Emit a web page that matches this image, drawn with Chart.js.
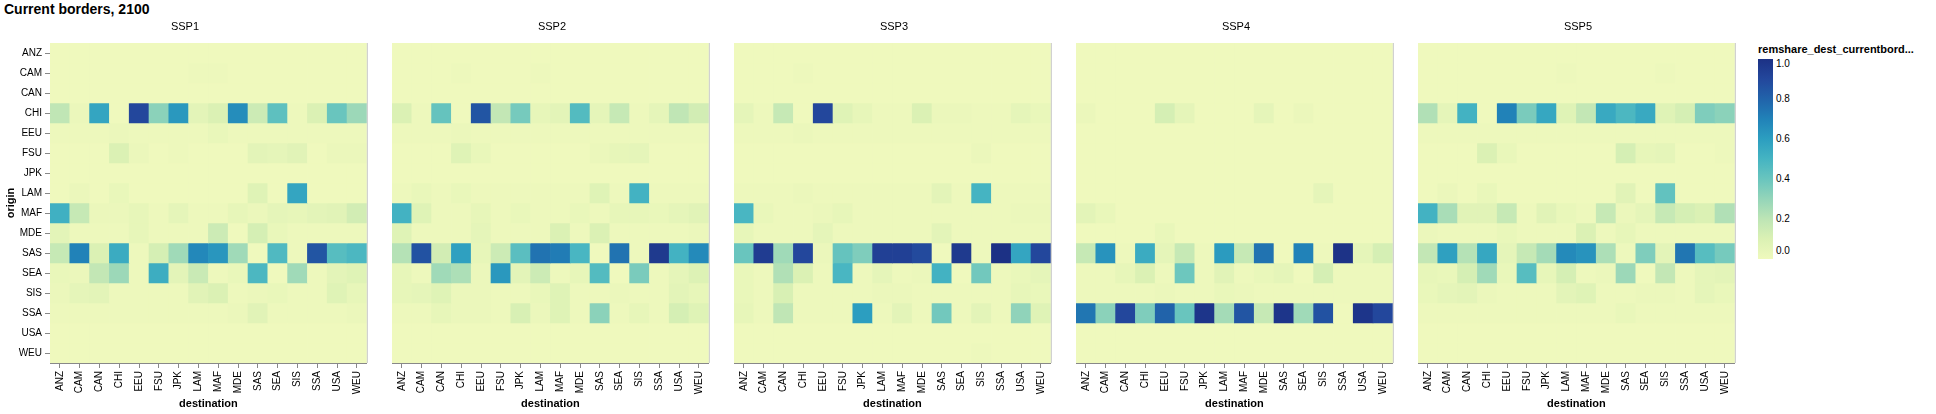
<!DOCTYPE html>
<html lang="en">
<head>
  <meta charset="UTF-8" />
  <title>Current borders, 2100</title>
  <script src="https://cdn.jsdelivr.net/npm/chart.js"></script>
  <style>
    body { margin: 0; background: #fff; font-family: 'Liberation Sans', Arial, sans-serif; }
    #wrap { position: relative; width: 1936px; height: 414px; overflow: hidden; }
    #wrap canvas { position: absolute; top: 0; }
    #title { position: absolute; left: 4px; top: 1px; font-size: 14px; font-weight: bold; color: #000; }
    #legTitle { position: absolute; left: 1758px; top: 43px; font-size: 11px; font-weight: bold; color: #000; white-space: nowrap; }
    #legBar { position: absolute; left: 1758px; top: 59px; width: 15px; height: 200px; }
    .legLbl { position: absolute; left: 1776px; font-size: 10px; color: #000; line-height: 10px; }
  </style>
</head>
<body>
  <div id="wrap">
    <div id="title">Current borders, 2100</div>
    <div id="legTitle">remshare_dest_currentbord...</div>
    <div id="legBar"></div>
  </div>

  <script>
    // categories
    const origins = ['ANZ','CAM','CAN','CHI','EEU','FSU','JPK','LAM','MAF','MDE','SAS','SEA','SIS','SSA','USA','WEU'];
    const destinations = ['ANZ','CAM','CAN','CHI','EEU','FSU','JPK','LAM','MAF','MDE','SAS','SEA','SIS','SSA','USA','WEU'];
    const scenarios = ['SSP1','SSP2','SSP3','SSP4','SSP5'];
    const legendTicks = [0.0, 0.2, 0.4, 0.6, 0.8, 1.0];

    // remittance share by origin (row) and destination (column), one table per scenario
    //            ANZ  CAM  CAN  CHI  EEU  FSU  JPK  LAM  MAF  MDE  SAS  SEA  SIS  SSA  USA  WEU
    const ssp1 = [
      [0.00,0.00,0.00,0.00,0.00,0.00,0.00,0.00,0.00,0.00,0.00,0.00,0.00,0.00,0.00,0.00],
      [0.00,0.00,0.00,0.00,0.00,0.00,0.00,0.01,0.01,0.00,0.00,0.00,0.00,0.00,0.00,0.00],
      [0.00,0.00,0.00,0.00,0.00,0.00,0.00,0.00,0.00,0.00,0.00,0.00,0.00,0.00,0.00,0.00],
      [0.19,0.02,0.57,0.00,0.90,0.32,0.62,0.06,0.10,0.66,0.15,0.43,0.01,0.10,0.40,0.28],
      [0.01,0.01,0.01,0.02,0.01,0.01,0.01,0.01,0.03,0.01,0.01,0.01,0.01,0.01,0.01,0.01],
      [0.00,0.00,0.00,0.10,0.02,0.00,0.01,0.00,0.00,0.00,0.06,0.05,0.07,0.00,0.02,0.02],
      [0.00,0.00,0.00,0.00,0.00,0.00,0.00,0.00,0.00,0.00,0.00,0.00,0.00,0.00,0.00,0.00],
      [0.00,0.02,0.00,0.03,0.00,0.00,0.00,0.00,0.00,0.00,0.08,0.00,0.57,0.00,0.00,0.00],
      [0.52,0.17,0.02,0.02,0.04,0.01,0.05,0.01,0.01,0.04,0.02,0.05,0.04,0.06,0.07,0.13],
      [0.06,0.01,0.01,0.01,0.04,0.01,0.01,0.01,0.15,0.00,0.12,0.03,0.01,0.01,0.01,0.01],
      [0.17,0.70,0.10,0.54,0.01,0.12,0.27,0.68,0.63,0.27,0.00,0.47,0.01,0.85,0.45,0.48],
      [0.03,0.02,0.18,0.28,0.01,0.53,0.06,0.16,0.01,0.03,0.48,0.00,0.27,0.01,0.06,0.08],
      [0.02,0.05,0.06,0.01,0.01,0.01,0.01,0.07,0.10,0.01,0.02,0.03,0.01,0.01,0.08,0.04],
      [0.01,0.01,0.01,0.01,0.01,0.01,0.01,0.01,0.01,0.02,0.07,0.01,0.01,0.01,0.01,0.02],
      [0.00,0.00,0.00,0.00,0.00,0.00,0.00,0.00,0.00,0.00,0.00,0.00,0.00,0.00,0.00,0.00],
      [0.00,0.00,0.00,0.00,0.00,0.00,0.00,0.00,0.00,0.00,0.00,0.00,0.00,0.00,0.00,0.00]
    ];
    const ssp2 = [
      [0.00,0.00,0.00,0.00,0.00,0.00,0.00,0.00,0.00,0.00,0.00,0.00,0.00,0.00,0.00,0.00],
      [0.00,0.00,0.00,0.01,0.00,0.00,0.00,0.01,0.00,0.00,0.00,0.00,0.00,0.00,0.00,0.00],
      [0.00,0.00,0.00,0.00,0.00,0.00,0.00,0.00,0.00,0.00,0.00,0.00,0.00,0.00,0.00,0.00],
      [0.10,0.01,0.41,0.00,0.85,0.18,0.37,0.04,0.06,0.46,0.05,0.17,0.01,0.05,0.19,0.13],
      [0.01,0.01,0.01,0.02,0.01,0.01,0.01,0.01,0.01,0.01,0.01,0.01,0.01,0.01,0.01,0.01],
      [0.00,0.00,0.00,0.08,0.03,0.00,0.00,0.00,0.00,0.00,0.02,0.04,0.05,0.00,0.00,0.00],
      [0.00,0.00,0.00,0.00,0.00,0.00,0.00,0.00,0.00,0.00,0.00,0.00,0.00,0.00,0.00,0.00],
      [0.01,0.03,0.01,0.03,0.01,0.01,0.01,0.01,0.01,0.01,0.08,0.01,0.51,0.01,0.01,0.01],
      [0.51,0.08,0.01,0.01,0.04,0.01,0.03,0.01,0.01,0.03,0.01,0.04,0.04,0.03,0.05,0.07],
      [0.08,0.01,0.01,0.01,0.05,0.01,0.01,0.01,0.10,0.01,0.10,0.01,0.01,0.01,0.01,0.02],
      [0.22,0.86,0.13,0.59,0.04,0.15,0.44,0.75,0.72,0.49,0.00,0.75,0.01,0.96,0.51,0.67],
      [0.04,0.01,0.27,0.24,0.02,0.62,0.06,0.15,0.01,0.04,0.46,0.00,0.36,0.01,0.05,0.09],
      [0.04,0.05,0.08,0.02,0.02,0.01,0.01,0.03,0.08,0.01,0.01,0.02,0.01,0.01,0.06,0.04],
      [0.01,0.01,0.04,0.02,0.02,0.01,0.11,0.02,0.08,0.01,0.32,0.01,0.04,0.01,0.12,0.08],
      [0.00,0.00,0.00,0.00,0.00,0.00,0.00,0.00,0.00,0.00,0.00,0.00,0.00,0.00,0.00,0.00],
      [0.00,0.00,0.00,0.00,0.00,0.00,0.00,0.00,0.00,0.00,0.00,0.00,0.00,0.00,0.00,0.00]
    ];
    const ssp3 = [
      [0.00,0.00,0.00,0.00,0.00,0.00,0.00,0.00,0.00,0.00,0.00,0.00,0.00,0.00,0.00,0.00],
      [0.00,0.00,0.00,0.01,0.00,0.00,0.00,0.00,0.00,0.00,0.00,0.00,0.00,0.00,0.00,0.00],
      [0.00,0.00,0.00,0.00,0.00,0.00,0.00,0.00,0.00,0.00,0.00,0.00,0.00,0.00,0.00,0.00],
      [0.05,0.01,0.17,0.00,0.90,0.08,0.04,0.01,0.01,0.10,0.02,0.02,0.01,0.01,0.05,0.03],
      [0.01,0.01,0.01,0.02,0.01,0.01,0.01,0.01,0.01,0.01,0.01,0.01,0.01,0.01,0.01,0.01],
      [0.00,0.00,0.00,0.00,0.00,0.00,0.00,0.00,0.00,0.00,0.00,0.00,0.02,0.00,0.00,0.00],
      [0.00,0.00,0.00,0.00,0.00,0.00,0.00,0.00,0.00,0.00,0.00,0.00,0.00,0.00,0.00,0.00],
      [0.01,0.01,0.01,0.02,0.01,0.01,0.01,0.01,0.01,0.01,0.06,0.01,0.50,0.01,0.01,0.01],
      [0.49,0.03,0.01,0.01,0.02,0.04,0.01,0.01,0.01,0.01,0.01,0.01,0.01,0.01,0.02,0.02],
      [0.04,0.01,0.01,0.01,0.05,0.01,0.01,0.01,0.01,0.01,0.06,0.01,0.01,0.01,0.01,0.01],
      [0.40,0.95,0.27,0.90,0.02,0.41,0.35,0.93,0.93,0.89,0.00,0.96,0.01,1.00,0.57,0.90],
      [0.03,0.01,0.23,0.10,0.01,0.49,0.01,0.05,0.01,0.02,0.51,0.00,0.38,0.01,0.03,0.05],
      [0.03,0.01,0.11,0.01,0.01,0.01,0.01,0.02,0.02,0.01,0.01,0.01,0.01,0.01,0.04,0.03],
      [0.04,0.01,0.19,0.01,0.01,0.01,0.60,0.01,0.06,0.01,0.38,0.01,0.06,0.01,0.31,0.08],
      [0.00,0.00,0.00,0.00,0.00,0.00,0.00,0.00,0.00,0.00,0.00,0.00,0.00,0.00,0.00,0.00],
      [0.00,0.00,0.00,0.00,0.00,0.00,0.00,0.00,0.00,0.00,0.00,0.00,0.01,0.00,0.00,0.00]
    ];
    const ssp4 = [
      [0.00,0.00,0.00,0.00,0.00,0.00,0.00,0.00,0.00,0.00,0.00,0.00,0.00,0.00,0.00,0.00],
      [0.00,0.00,0.00,0.00,0.00,0.00,0.00,0.00,0.00,0.00,0.00,0.00,0.00,0.00,0.00,0.00],
      [0.00,0.00,0.00,0.00,0.00,0.00,0.00,0.00,0.00,0.00,0.00,0.00,0.00,0.00,0.00,0.00],
      [0.02,0.00,0.00,0.00,0.12,0.05,0.00,0.00,0.00,0.05,0.00,0.02,0.00,0.00,0.00,0.00],
      [0.00,0.00,0.00,0.00,0.00,0.00,0.00,0.00,0.00,0.00,0.00,0.00,0.00,0.00,0.00,0.00],
      [0.00,0.00,0.00,0.00,0.00,0.00,0.00,0.00,0.00,0.00,0.00,0.00,0.00,0.00,0.00,0.00],
      [0.00,0.00,0.00,0.00,0.00,0.00,0.00,0.00,0.00,0.00,0.00,0.00,0.00,0.00,0.00,0.00],
      [0.00,0.00,0.00,0.00,0.00,0.00,0.00,0.00,0.00,0.00,0.00,0.00,0.05,0.00,0.00,0.00],
      [0.06,0.03,0.00,0.00,0.00,0.00,0.00,0.00,0.00,0.00,0.00,0.00,0.00,0.00,0.00,0.00],
      [0.00,0.00,0.00,0.00,0.03,0.00,0.00,0.00,0.00,0.00,0.00,0.00,0.00,0.00,0.00,0.00],
      [0.17,0.64,0.01,0.54,0.05,0.17,0.01,0.61,0.17,0.75,0.00,0.70,0.01,0.99,0.05,0.12],
      [0.01,0.01,0.04,0.10,0.01,0.39,0.01,0.07,0.01,0.03,0.05,0.00,0.12,0.01,0.01,0.01],
      [0.01,0.01,0.01,0.01,0.02,0.01,0.01,0.03,0.02,0.01,0.01,0.01,0.01,0.01,0.01,0.01],
      [0.74,0.32,0.90,0.35,0.80,0.40,0.98,0.26,0.85,0.17,0.98,0.27,0.86,0.00,0.98,0.90],
      [0.00,0.00,0.00,0.00,0.00,0.00,0.00,0.00,0.00,0.00,0.00,0.00,0.00,0.00,0.00,0.00],
      [0.00,0.00,0.00,0.00,0.00,0.00,0.00,0.00,0.00,0.00,0.00,0.00,0.00,0.00,0.00,0.00]
    ];
    const ssp5 = [
      [0.00,0.00,0.00,0.00,0.00,0.00,0.00,0.00,0.00,0.00,0.00,0.00,0.00,0.00,0.00,0.00],
      [0.00,0.00,0.00,0.00,0.00,0.00,0.00,0.01,0.00,0.00,0.00,0.00,0.01,0.00,0.00,0.00],
      [0.00,0.00,0.00,0.00,0.00,0.00,0.00,0.00,0.00,0.00,0.00,0.00,0.00,0.00,0.00,0.00],
      [0.23,0.05,0.51,0.00,0.70,0.36,0.56,0.08,0.18,0.55,0.48,0.55,0.08,0.12,0.35,0.32],
      [0.01,0.01,0.01,0.01,0.01,0.01,0.01,0.01,0.01,0.01,0.01,0.01,0.01,0.01,0.01,0.01],
      [0.00,0.00,0.00,0.10,0.03,0.00,0.00,0.00,0.00,0.00,0.12,0.04,0.05,0.00,0.00,0.01],
      [0.00,0.00,0.00,0.00,0.00,0.00,0.00,0.00,0.00,0.00,0.00,0.00,0.00,0.00,0.00,0.00],
      [0.00,0.02,0.00,0.03,0.00,0.00,0.00,0.00,0.00,0.00,0.07,0.00,0.42,0.00,0.00,0.00],
      [0.51,0.25,0.07,0.07,0.17,0.01,0.07,0.03,0.01,0.17,0.02,0.05,0.17,0.12,0.10,0.23],
      [0.02,0.01,0.01,0.01,0.03,0.01,0.01,0.01,0.10,0.01,0.04,0.01,0.01,0.01,0.01,0.01],
      [0.18,0.59,0.22,0.56,0.05,0.17,0.26,0.67,0.64,0.24,0.01,0.35,0.06,0.74,0.45,0.37],
      [0.04,0.03,0.12,0.27,0.03,0.45,0.04,0.12,0.01,0.02,0.28,0.00,0.18,0.01,0.05,0.06],
      [0.03,0.05,0.06,0.02,0.01,0.01,0.01,0.06,0.08,0.01,0.01,0.02,0.02,0.01,0.05,0.03],
      [0.01,0.01,0.01,0.01,0.01,0.01,0.01,0.01,0.01,0.01,0.03,0.01,0.01,0.01,0.01,0.01],
      [0.00,0.00,0.00,0.00,0.00,0.00,0.00,0.00,0.00,0.00,0.00,0.00,0.00,0.00,0.00,0.00],
      [0.00,0.00,0.00,0.00,0.00,0.00,0.00,0.00,0.00,0.00,0.00,0.00,0.00,0.00,0.00,0.00]
    ];
    const tables = [ssp1, ssp2, ssp3, ssp4, ssp5];

    // yellowgreenblue scheme
    const scheme = ['#eff9bd','#dbf1b4','#bde5b5','#94d5b9','#69c5be','#45b4c2','#2c9ec0','#2182b8','#2163aa','#23479c','#1c3185'];

    function hexToRgb(h) {
      return [parseInt(h.slice(1, 3), 16), parseInt(h.slice(3, 5), 16), parseInt(h.slice(5, 7), 16)];
    }

    function colorFor(v) {
      const t = Math.max(0, Math.min(1, v)) * (scheme.length - 1);
      const i = Math.min(Math.floor(t), scheme.length - 2);
      const f = t - i;
      const a = hexToRgb(scheme[i]);
      const b = hexToRgb(scheme[i + 1]);
      const c = a.map((x, k) => Math.round(x + (b[k] - x) * f));
      return `rgb(${c[0]},${c[1]},${c[2]})`;
    }

    const FONT = "'Liberation Sans', Arial, sans-serif";
    const PLOT_W = 320;
    const STEP = 342;
    const FIRST_LEFT = 50;
    const AXIS_W = 50;

    // light view border on the right side of each cell
    const viewStroke = {
      id: 'viewStroke',
      afterDatasetsDraw(chart) {
        const { ctx, chartArea } = chart;
        ctx.save();
        ctx.strokeStyle = '#c8c8c8';
        ctx.lineWidth = 1;
        ctx.beginPath();
        ctx.moveTo(chartArea.right + 0.5, chartArea.top);
        ctx.lineTo(chartArea.right + 0.5, chartArea.bottom);
        ctx.stroke();
        ctx.restore();
      }
    };

    const wrap = document.getElementById('wrap');

    scenarios.forEach((name, k) => {
      const first = k === 0;
      const canvas = document.createElement('canvas');
      const left = first ? 0 : FIRST_LEFT + STEP * k;
      const width = first ? AXIS_W + PLOT_W + 2 : PLOT_W + 2;
      canvas.width = width;
      canvas.height = 414;
      canvas.style.left = left + 'px';
      wrap.appendChild(canvas);

      const table = tables[k];
      const datasets = origins.map((o, i) => ({
        label: o,
        data: destinations.map((d) => ({ x: d, y: [i, i + 1] })),
        backgroundColor: table[i].map(colorFor),
        borderWidth: 0,
        barPercentage: 1,
        categoryPercentage: 1,
        grouped: false
      }));

      new Chart(canvas, {
        type: 'bar',
        data: { labels: destinations, datasets },
        options: {
          responsive: false,
          animation: false,
          layout: { padding: { left: 0, right: 2, top: 0, bottom: 0 } },
          plugins: {
            legend: { display: false },
            tooltip: { enabled: false },
            title: {
              display: true,
              text: name,
              color: '#000',
              font: { family: FONT, size: 11, weight: 'normal', lineHeight: 1.2 },
              padding: { top: 20, bottom: 9.8 }
            }
          },
          scales: {
            x: {
              type: 'category',
              afterFit: (s) => { s.height = 51; },
              ticks: {
                color: '#000',
                font: { family: FONT, size: 10 },
                maxRotation: 90,
                minRotation: 90,
                autoSkip: false,
                padding: 3
              },
              grid: { display: true, drawOnChartArea: false, offset: false, tickLength: 5, color: '#888' },
              border: { display: true, color: '#888' },
              title: {
                display: true,
                text: 'destination',
                color: '#000',
                font: { family: FONT, size: 11, weight: 'bold', lineHeight: 1.2 },
                padding: { top: 0, bottom: 3.5 }
              }
            },
            y: {
              type: 'linear',
              display: first,
              reverse: true,
              min: 0,
              max: origins.length,
              afterFit: (s) => { s.width = first ? AXIS_W : 0; },
              afterBuildTicks: (s) => { s.ticks = origins.map((_, i) => ({ value: i + 0.5 })); },
              ticks: {
                display: first,
                color: '#000',
                font: { family: FONT, size: 10 },
                autoSkip: false,
                padding: 3,
                callback: (v, i) => origins[i]
              },
              grid: { display: first, drawOnChartArea: false, tickLength: 5, color: '#888' },
              border: { display: first, color: '#888' },
              title: {
                display: first,
                text: 'origin',
                color: '#000',
                font: { family: FONT, size: 11, weight: 'bold', lineHeight: 1.2 },
                padding: { top: 4.4, bottom: 0 }
              }
            }
          }
        },
        plugins: [viewStroke]
      });
    });

    // colour legend
    const bar = document.getElementById('legBar');
    bar.style.background = 'linear-gradient(to top, ' + scheme.join(', ') + ')';
    legendTicks.forEach((t) => {
      const el = document.createElement('div');
      el.className = 'legLbl';
      el.textContent = t.toFixed(1);
      let y = 59 + (1 - t) * 200;
      if (t === 1) y += 5;
      if (t === 0) y -= 8;
      el.style.top = (y - 5) + 'px';
      wrap.appendChild(el);
    });
  </script>
</body>
</html>
